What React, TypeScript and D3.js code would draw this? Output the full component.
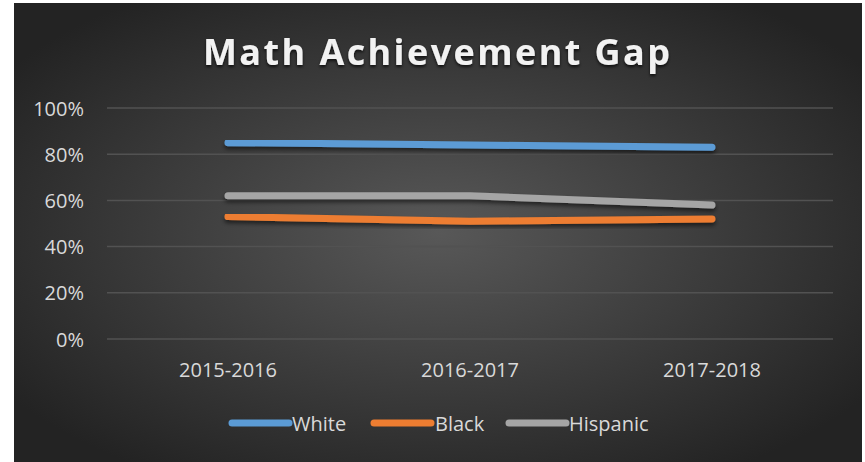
import React from "react";
import * as d3 from "d3";

const categories = ["2015-2016", "2016-2017", "2017-2018"];
const seriesNames = ["White", "Black", "Hispanic"];
const whiteValues = [0.85, 0.84, 0.83];
const blackValues = [0.53, 0.51, 0.52];
const hispanicValues = [0.62, 0.62, 0.58];
const yTicks = [0, 0.2, 0.4, 0.6, 0.8, 1.0];
const colors = ["#5B9BD5", "#ED7D31", "#A5A5A5"];
const title = "Math Achievement Gap";

const W = 865;
const H = 462;
const FONT = "'Open Sans', 'Noto Sans', sans-serif";

export default function App() {
  const plotLeft = 107;
  const plotRight = 833;
  const plotTop = 108;
  const plotBottom = 339;

  const x = d3.scaleBand<string>().domain(categories).range([plotLeft, plotRight]);
  const y = d3.scaleLinear().domain([0, 1]).range([plotBottom, plotTop]);
  const fmt = d3.format(".0%");

  const series = [
    { name: seriesNames[0], values: whiteValues, color: colors[0] },
    { name: seriesNames[1], values: blackValues, color: colors[1] },
    { name: seriesNames[2], values: hispanicValues, color: colors[2] },
  ];

  const line = d3
    .line<number>()
    .x((_, i) => (x(categories[i]) as number) + x.bandwidth() / 2)
    .y((v) => y(v));

  const legendItems = [
    { name: seriesNames[0], lineX: 232, textX: 292, color: colors[0] },
    { name: seriesNames[1], lineX: 374, textX: 435, color: colors[1] },
    { name: seriesNames[2], lineX: 509, textX: 569, color: colors[2] },
  ];

  return (
    <svg
      width={W}
      height={H}
      style={{ position: "absolute", left: 0, top: 0, display: "block" }}
    >
      <defs>
        <radialGradient id="bg" cx="50%" cy="50%" r="62%" fx="50%" fy="50%">
          <stop offset="0%" stopColor="#585858" />
          <stop offset="100%" stopColor="#232323" />
        </radialGradient>
        <filter id="lineShadow" x="-10%" y="-50%" width="120%" height="300%">
          <feDropShadow dx="0" dy="3" stdDeviation="2" floodColor="#000" floodOpacity="0.55" />
        </filter>
        <filter id="titleShadow" x="-10%" y="-30%" width="120%" height="160%">
          <feDropShadow dx="0" dy="2" stdDeviation="1.5" floodColor="#000" floodOpacity="0.7" />
        </filter>
      </defs>
      <rect x={0} y={0} width={W} height={H} fill="#ffffff" />
      <rect x={14} y={3} width={848} height={459} fill="url(#bg)" />

      <text
        x={436.5}
        y={65}
        textAnchor="middle"
        fontFamily={FONT}
        fontWeight={700}
        fontSize={36}
        fill="#F2F2F2"
        textLength={467}
        lengthAdjust="spacing"
        filter="url(#titleShadow)"
      >
        {title}
      </text>

      {yTicks.map((t) => (
        <g key={t}>
          <line
            x1={plotLeft}
            x2={plotRight}
            y1={y(t)}
            y2={y(t)}
            stroke="#525252"
            strokeWidth={1.5}
          />
          <text
            x={84}
            y={y(t) + 7.5}
            textAnchor="end"
            fontFamily={FONT}
            fontSize={20}
            fill="#D9D9D9"
          >
            {fmt(t)}
          </text>
        </g>
      ))}

      {categories.map((c) => (
        <text
          key={c}
          x={(x(c) as number) + x.bandwidth() / 2}
          y={377}
          textAnchor="middle"
          fontFamily={FONT}
          fontSize={20}
          fill="#D9D9D9"
        >
          {c}
        </text>
      ))}

      {series.map((s) => (
        <path
          key={s.name}
          d={line(s.values) || ""}
          fill="none"
          stroke={s.color}
          strokeWidth={7}
          strokeLinecap="round"
          strokeLinejoin="round"
          filter="url(#lineShadow)"
        />
      ))}

      {legendItems.map((l) => (
        <g key={l.name}>
          <line
            x1={l.lineX}
            x2={l.lineX + 57}
            y1={423}
            y2={423}
            stroke={l.color}
            strokeWidth={7}
            strokeLinecap="round"
          />
          <text
            x={l.textX}
            y={431}
            fontFamily={FONT}
            fontSize={20}
            fill="#D9D9D9"
          >
            {l.name}
          </text>
        </g>
      ))}
    </svg>
  );
}
